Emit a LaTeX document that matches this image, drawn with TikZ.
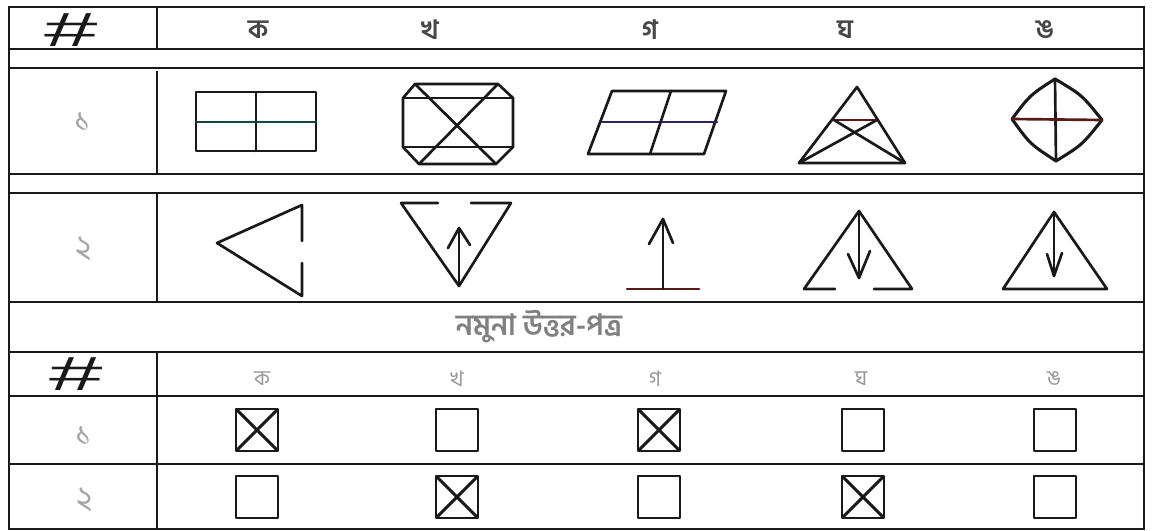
\documentclass[tikz,border=0pt]{standalone}
\usepackage{fontspec}
\usepackage{graphicx}
\newfontfamily\bn[Script=Bengali]{Hind Siliguri}
\newfontfamily\hashfont{Liberation Sans}
\definecolor{ink}{RGB}{25,25,25}
\definecolor{redink}{RGB}{90,25,25}
\definecolor{tealink}{RGB}{20,70,70}
\definecolor{purpink}{RGB}{50,30,90}
\begin{document}
\begin{tikzpicture}[x=0.75pt,y=-0.75pt,
  rule/.style={line width=1.5pt, draw=ink},
  divider/.style={line width=2pt, draw=ink},
  fig/.style={line width=2pt, draw=ink, line join=round, line cap=round},
  box/.style={line width=2.2pt, draw=ink, line join=round},
  hdr/.style={font=\bn\bfseries\fontsize{20}{20}\selectfont, text=black!72, inner sep=0pt},
  lbl/.style={font=\bn\fontsize{25}{25}\selectfont, text=black!35, inner sep=0pt},
  sublbl/.style={font=\bn\fontsize{16}{16}\selectfont, text=black!40, inner sep=0pt},
  hash/.style={font=\hashfont\fontsize{36}{36}\selectfont, text=ink, inner sep=0pt},
]
\fill[white] (0,0) rectangle (1152,531);
\useasboundingbox (0,0) rectangle (1152,531);

% ---------- frame and rules ----------
\draw[rule] (9,7) rectangle (1144,529);
\foreach \yy in {49,68,174,193,302,352,396,464}
  \draw[rule] (9,\yy) -- (1144,\yy);
\draw[divider] (157,7) -- (157,49);
\draw[divider] (157,71) -- (157,173);
\draw[divider] (157,193) -- (157,302);
\draw[divider] (157,352) -- (157,529);

% ---------- top header ----------
\node[hash] (h1) at (71,30) {\scalebox{2}[1]{\#}};
\node[hdr] (ka)  at (258,30) {ক};
\node[hdr] (kha) at (430,30) {খ};
\node[hdr] (ga)  at (650,30) {গ};
\node[hdr] (gha) at (845,30) {ঘ};
\node[hdr] (nga) at (1045,30) {ঙ};

% ---------- row 1 ----------
\node[lbl] (r1) at (83,122) {১};
% ka: rectangle
\draw[fig] (196,92) rectangle (316,151);
\draw[fig] (256,92) -- (256,151);
\draw[fig, draw=tealink] (196,122) -- (316,122);
% kha: clipped box with cross
\draw[fig] (415,84) -- (498,84) -- (513,98) -- (513,147) -- (496,164) -- (419,164) -- (403,147) -- (403,98) -- cycle;
\draw[fig] (403,98) -- (513,98);
\draw[fig] (403,147) -- (513,147);
\draw[fig] (415,84) -- (496,164);
\draw[fig] (498,84) -- (419,164);
% ga: parallelogram
\draw[fig] (612,91) -- (726,91) -- (704,154) -- (588,154) -- cycle;
\draw[fig, draw=purpink] (602,122) -- (717,122);
\draw[fig] (671,91) -- (650,154);
% gha: triangle with crossing lines
\draw[fig] (857,87) -- (905,163) -- (799,163) -- cycle;
\draw[fig, draw=redink] (834,120) -- (877,120);
\draw[fig] (834,120) -- (905,163);
\draw[fig] (877,120) -- (799,163);
% nga: curved diamond
\draw[fig, line width=2.3pt] (1055,79) .. controls (1082,95) .. (1102,120)
  .. controls (1082,145) .. (1056,161)
  .. controls (1030,144) .. (1012,119)
  .. controls (1030,95) .. cycle;
\draw[fig] (1055,79) -- (1056,161);
\draw[fig, draw=redink] (1012,119) -- (1102,120);

% ---------- row 2 ----------
\node[lbl] (r2) at (84,249) {২};
% ka: open triangle pointing left
\draw[fig] (302,241) -- (302,205) -- (217,243) -- (302,296) -- (302,263);
% kha: inverted triangle with up arrow
\draw[fig] (438,203) -- (401,203) -- (459,286) -- (511,203) -- (471,203);
\draw[fig] (459,286) -- (459,228);
\draw[fig] (448,248) -- (459,228) -- (470,245);
% ga: up arrow on base
\draw[fig, draw=redink] (627,289) -- (699,289);
\draw[fig] (663,289) -- (663,219);
\draw[fig] (649,244) -- (663,219) -- (673,243);
% gha: triangle with broken base and down arrow
\draw[fig] (835,289) -- (804,289) -- (859,211) -- (912,289) -- (874,289);
\draw[fig] (859,211) -- (859,278);
\draw[fig] (848,254) -- (859,278) -- (870,251);
% nga: triangle with down arrow
\draw[fig] (1054,212) -- (1107,289) -- (1003,289) -- cycle;
\draw[fig] (1054,212) -- (1054,276);
\draw[fig] (1047,254) -- (1054,276) -- (1062,253);

% ---------- caption ----------
\node[font=\bn\bfseries\fontsize{22}{22}\selectfont, text=black!50, inner sep=0pt] (cap) at (539,327) {নমুনা উত্তর-পত্র};

% ---------- answer sheet ----------
\node[hash] (h2) at (76,374) {\scalebox{2}[1]{\#}};
\node[sublbl] (ka2)  at (262,379) {ক};
\node[sublbl] (kha2) at (457,379) {খ};
\node[sublbl] (ga2)  at (655,379) {গ};
\node[sublbl] (gha2) at (861,379) {ঘ};
\node[sublbl] (nga2) at (1054,379) {ঙ};
\node[lbl] (s1) at (84,436) {১};
\node[lbl] (s2) at (85,500) {২};

\foreach \cx/\cy/\mk in {257/430/1, 457/430/0, 659/430/1, 863/430/0, 1055/430/0,
                         257/497/0, 457/497/1, 659/497/0, 863/497/1, 1055/497/0} {
  \draw[box] (\cx-21,\cy-21) rectangle (\cx+21,\cy+21);
  \ifnum\mk=1
    \draw[box] (\cx-21,\cy-21) -- (\cx+21,\cy+21);
    \draw[box] (\cx+21,\cy-21) -- (\cx-21,\cy+21);
  \fi
}
\end{tikzpicture}
\end{document}
